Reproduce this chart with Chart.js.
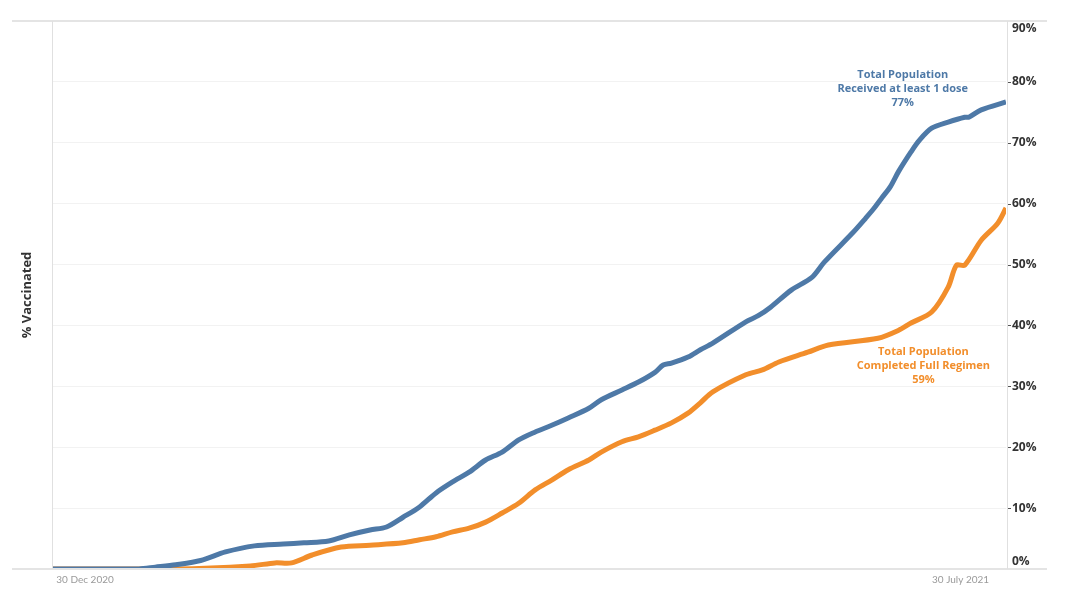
<!DOCTYPE html>
<html>
<head>
<meta charset="utf-8">
<script src="https://cdn.jsdelivr.net/npm/chart.js@4"></script>
<style>
  html, body { margin: 0; padding: 0; background: #fff; }
  #wrap { width: 1080px; height: 598px; }
</style>
</head>
<body>
<div id="wrap"><canvas id="chart" width="1080" height="598"></canvas></div>
<script>
// days counted from 22 Dec 2020
const firstDoseDays = [0, 21, 25, 30, 36, 42, 49, 56, 61, 67, 72, 77, 81, 85, 89, 93, 97, 101, 105, 109, 113, 117, 121, 125, 130, 133, 138, 142, 146, 148, 150, 154, 157, 160, 168, 171, 174, 179, 184, 187, 194, 197, 199, 201, 203, 205, 208, 210, 213, 217, 221, 222, 225, 231];
const firstDoseValues = [0, 0, 0.3, 0.7, 1.4, 2.8, 3.8, 4.1, 4.3, 4.6, 5.6, 6.4, 6.9, 8.5, 10.2, 12.5, 14.3, 15.9, 17.9, 19.2, 21.2, 22.5, 23.6, 24.8, 26.4, 27.8, 29.4, 30.7, 32.3, 33.5, 33.8, 34.8, 36.0, 37.1, 40.6, 41.6, 43.0, 45.8, 47.9, 50.4, 55.3, 57.6, 59.2, 61.0, 62.8, 65.3, 68.5, 70.4, 72.4, 73.4, 74.2, 74.2, 75.4, 76.7];

const fullDays = [0, 30, 48, 54, 58, 63, 70, 77, 85, 89, 93, 97, 101, 105, 109, 113, 117, 121, 125, 130, 133, 138, 142, 146, 150, 154, 157, 160, 168, 172, 176, 183, 188, 200, 205, 208, 213, 217, 219, 221, 225, 229, 231];
const fullValues = [0, 0, 0.5, 1.0, 1.0, 2.3, 3.6, 3.9, 4.3, 4.8, 5.3, 6.1, 6.7, 7.7, 9.2, 10.8, 13.0, 14.6, 16.3, 17.9, 19.2, 20.9, 21.7, 22.8, 24.0, 25.6, 27.3, 29.1, 31.9, 32.7, 34.0, 35.6, 36.8, 37.9, 39.2, 40.4, 42.2, 46.3, 49.9, 49.9, 54.0, 56.8, 59.3];

const xTickDays = [8, 220];
const xTickLabels = ['30 Dec 2020', '30 July 2021'];
const yTicks = [0, 10, 20, 30, 40, 50, 60, 70, 80, 90];

const blueLabel = ['Total Population', 'Received at least 1 dose', '77%'];
const orangeLabel = ['Total Population', 'Completed Full Regimen', '59%'];

const BLUE = '#4e79a7';
const ORANGE = '#f28e2b';

function toPoints(xs, ys) {
  return xs.map((d, i) => ({ x: d, y: ys[i] }));
}

const decorPlugin = {
  id: 'decor',
  afterDraw(chart) {
    const ctx = chart.ctx;
    const xs = chart.scales.x;
    const ys = chart.scales.y;
    const area = chart.chartArea;
    ctx.save();

    // frame lines
    ctx.strokeStyle = '#e4e4e4';
    ctx.lineWidth = 2;
    ctx.beginPath();
    ctx.moveTo(12, area.top); ctx.lineTo(1047, area.top);
    ctx.moveTo(12, area.bottom); ctx.lineTo(1047, area.bottom);
    ctx.stroke();
    ctx.lineWidth = 1;
    ctx.strokeStyle = '#e0e0e0';
    ctx.beginPath();
    ctx.moveTo(area.left + 0.5, area.top); ctx.lineTo(area.left + 0.5, area.bottom);
    ctx.moveTo(area.right + 1.5, area.top); ctx.lineTo(area.right + 1.5, area.bottom);
    ctx.stroke();

    // y ticks on the right
    ctx.font = 'bold 12px "Open Sans"';
    ctx.fillStyle = '#333';
    ctx.textAlign = 'left';
    ctx.textBaseline = 'middle';
    yTicks.forEach(v => {
      let py = ys.getPixelForValue(v);
      if (v === 0) py -= 7;
      else if (v === 90) py += 8;
      else {
        ctx.strokeStyle = '#555';
        ctx.beginPath();
        ctx.moveTo(area.right + 2, Math.round(py) + 0.5);
        ctx.lineTo(area.right + 5, Math.round(py) + 0.5);
        ctx.stroke();
      }
      ctx.fillText(v + '%', area.right + 6, py);
    });

    // x tick labels
    ctx.font = '10px Lato';
    ctx.fillStyle = '#9a9a9a';
    ctx.textAlign = 'center';
    xTickDays.forEach((d, i) => {
      ctx.fillText(xTickLabels[i], xs.getPixelForValue(d), area.bottom + 11);
    });

    // y axis title
    ctx.save();
    ctx.translate(27, 295);
    ctx.rotate(-Math.PI / 2);
    ctx.font = 'bold 13px "Open Sans"';
    ctx.fillStyle = '#333';
    ctx.fillText('% Vaccinated', 0, 0);
    ctx.restore();

    // series annotations
    ctx.font = 'bold 11px "Open Sans"';
    ctx.fillStyle = BLUE;
    blueLabel.forEach((t, i) => {
      ctx.fillText(t, xs.getPixelForValue(206), ys.getPixelForValue(81.1) + i * 14);
    });
    ctx.fillStyle = ORANGE;
    orangeLabel.forEach((t, i) => {
      ctx.fillText(t, xs.getPixelForValue(211), ys.getPixelForValue(35.6) + i * 14);
    });

    ctx.restore();
  }
};

new Chart(document.getElementById('chart'), {
  type: 'line',
  data: {
    datasets: [{
      label: 'Received at least 1 dose',
      data: toPoints(firstDoseDays, firstDoseValues),
      borderColor: BLUE,
      borderWidth: 5,
      pointRadius: 0,
      tension: 0.3,
      order: 1
    }, {
      label: 'Completed Full Regimen',
      data: toPoints(fullDays, fullValues),
      borderColor: ORANGE,
      borderWidth: 5,
      pointRadius: 0,
      tension: 0.3,
      order: 2
    }]
  },
  options: {
    responsive: false,
    animation: false,
    layout: { padding: { left: 52, right: 74, top: 21, bottom: 29 } },
    plugins: {
      legend: { display: false },
      tooltip: { enabled: false }
    },
    scales: {
      x: {
        type: 'linear',
        min: 0,
        max: 231,
        grid: { display: false },
        border: { display: false },
        ticks: { display: false },
        afterFit: s => { s.height = 0; }
      },
      y: {
        position: 'right',
        min: 0,
        max: 90,
        grid: { color: '#f2f2f2', drawTicks: false },
        border: { display: false },
        ticks: { display: false, stepSize: 10 },
        afterFit: s => { s.width = 0; }
      }
    }
  },
  plugins: [decorPlugin]
});
</script>
</body>
</html>
